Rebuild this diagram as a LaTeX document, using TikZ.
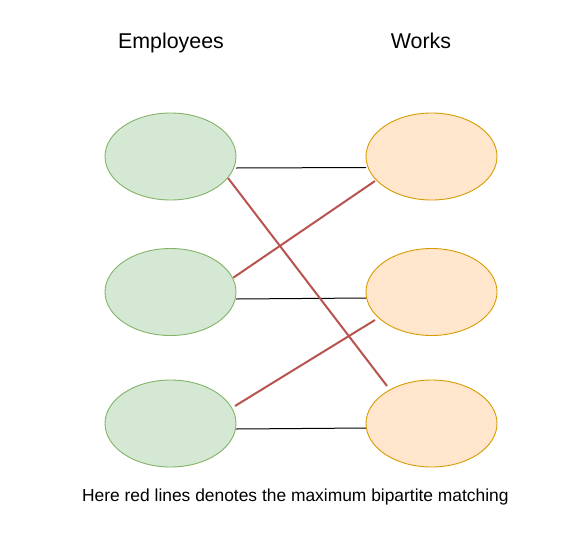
\documentclass[tikz,border=0pt]{standalone}
\usepackage{fontspec}
\setmainfont{Liberation Sans}
\usetikzlibrary{shapes.geometric}
\definecolor{empfill}{HTML}{D5E8D4}
\definecolor{empdraw}{HTML}{82B366}
\definecolor{wrkfill}{HTML}{FFE6CC}
\definecolor{wrkdraw}{HTML}{D79B00}
\definecolor{matchred}{HTML}{B85450}
\begin{document}
\begin{tikzpicture}[x=1pt,y=-1pt,
  emp/.style={ellipse,draw=empdraw,fill=empfill,line width=0.9pt,minimum width=131pt,minimum height=87pt,inner sep=0pt},
  wrk/.style={ellipse,draw=wrkdraw,fill=wrkfill,line width=0.9pt,minimum width=131pt,minimum height=87pt,inner sep=0pt},
  plain/.style={draw=black,line width=1pt},
  match/.style={draw=matchred,line width=2pt},
  title/.style={anchor=base,inner sep=0pt,font=\fontsize{21.4}{25}\selectfont},
  caption/.style={anchor=base,inner sep=0pt,font=\fontsize{17.4}{21}\selectfont}]
\useasboundingbox (0,0) rectangle (588,541);
\node[title] (tEmp) at (171,48) {Employees};
\node[title] (tWrk) at (421,48) {Works};
\node[emp] (e1) at (170.5,156.5) {};
\node[emp] (e2) at (170.5,292) {};
\node[emp] (e3) at (170.5,423.5) {};
\node[wrk] (w1) at (431.5,156.5) {};
\node[wrk] (w2) at (431.5,292) {};
\node[wrk] (w3) at (431.5,423.5) {};
% connector end points
\coordinate (a1) at (236,168);
\coordinate (b1) at (366,167.5);
\coordinate (a2) at (236,299);
\coordinate (b2) at (366,298);
\coordinate (a3) at (236,429);
\coordinate (b3) at (366,428);
\coordinate (r1s) at (228,178);
\coordinate (r1e) at (387,386);
\coordinate (r2s) at (233.3,277.7);
\coordinate (r2e) at (375,181);
\coordinate (r3s) at (235,406);
\coordinate (r3e) at (375,320);
\draw[plain] (a1) -- (b1);
\draw[plain] (a2) -- (b2);
\draw[plain] (a3) -- (b3);
\draw[match] (r1s) -- (r1e);
\draw[match] (r2s) -- (r2e);
\draw[match] (r3s) -- (r3e);
\node[caption] (cap) at (295.4,501) {Here red lines denotes the maximum bipartite matching};
\end{tikzpicture}
\end{document}
